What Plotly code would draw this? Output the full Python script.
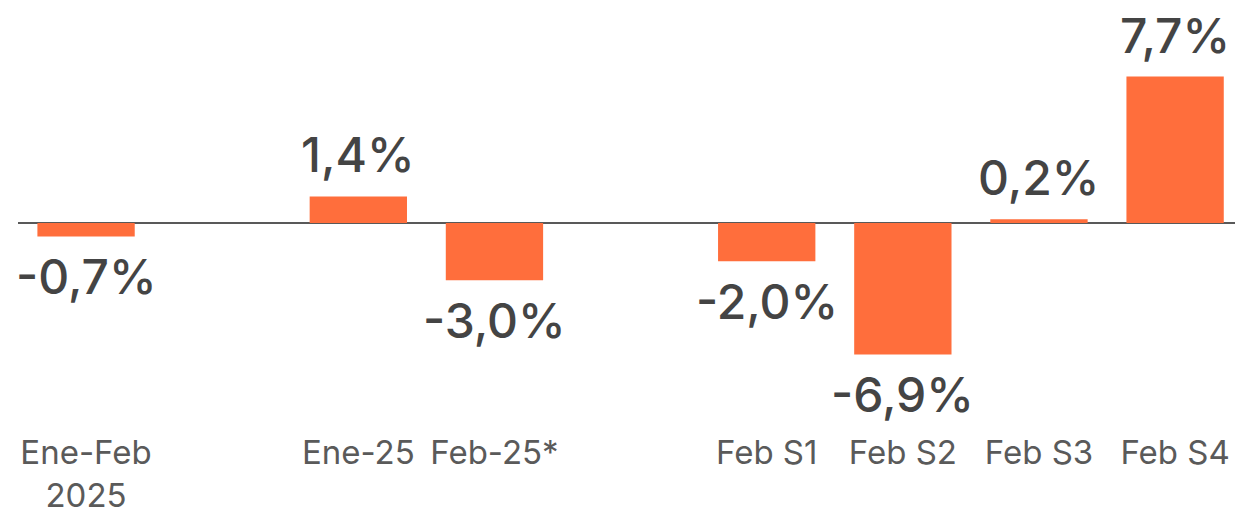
import plotly.graph_objects as go

categories = ["Ene-Feb<br>2025", " ", "Ene-25", "Feb-25*", "  ", "Feb S1", "Feb S2", "Feb S3", "Feb S4"]
values = [-0.7, None, 1.4, -3.0, None, -2.0, -6.9, 0.2, 7.7]

labels = ["" if v is None else f"{v:.1f}%".replace(".", ",") for v in values]

BAR = "#FF6E3C"
LABEL = "#444444"
TICK = "#5a5a5a"
FONT = "Inter, Noto Sans, sans-serif"

fig = go.Figure(go.Bar(
    x=categories,
    y=values,
    cliponaxis=False,
    marker=dict(color=BAR, line=dict(width=0)),
    width=0.715,
    hoverinfo="skip",
))

for c, v, t in zip(categories, values, labels):
    if v is None:
        continue
    pos = v >= 0
    fig.add_annotation(
        x=c, y=v, text=t, showarrow=False,
        xanchor="center",
        yanchor="bottom" if pos else "top",
        yshift=10 if pos else -9,
        font=dict(family=FONT, size=48, color=LABEL, weight=500),
    )

fig.update_layout(
    width=1235, height=514,
    margin=dict(l=18, r=0, t=0, b=84, autoexpand=False),
    paper_bgcolor="white", plot_bgcolor="white",
    showlegend=False,
    xaxis=dict(
        type="category",
        range=[-0.5, 8.44],
        automargin=False,
        showgrid=False, showline=False, ticks="",
        tickfont=dict(family=FONT, size=33, color=TICK),
        fixedrange=True,
    ),
    yaxis=dict(
        range=[-10.87, 11.72],
        automargin=False,
        showgrid=False, showticklabels=False, ticks="",
        zeroline=True, zerolinecolor="#595959", zerolinewidth=2,
        fixedrange=True,
    ),
)

fig.write_html("out.html", config={"displayModeBar": False},
               post_script="document.body.style.margin='0px';")
